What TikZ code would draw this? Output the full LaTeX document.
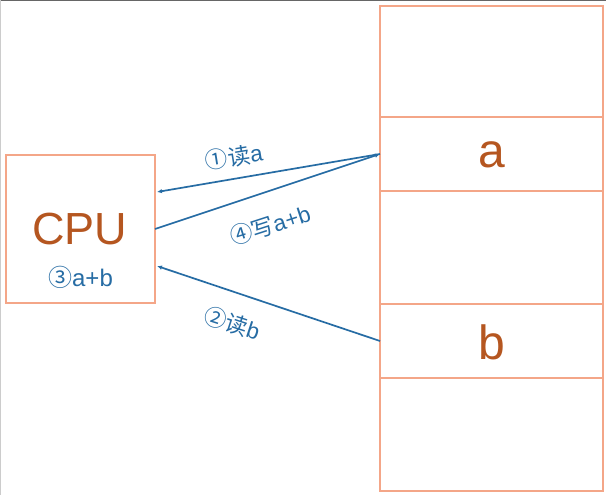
\documentclass[tikz,border=0pt]{standalone}
\usepackage{fontspec}
\setmainfont{Liberation Sans}
\newfontfamily\cjk{Noto Sans CJK SC}
\usetikzlibrary{arrows.meta,calc}
\definecolor{boxline}{RGB}{244,166,136}
\definecolor{brownt}{RGB}{181,86,32}
\definecolor{bluel}{RGB}{38,108,164}
\begin{document}
\begin{tikzpicture}[x=1pt,y=-1pt,
  cell/.style={draw=boxline,line width=1.8pt,minimum width=223pt,inner sep=0pt,outer sep=0pt},
  bigtext/.style={text=brownt,font=\fontsize{48}{50}\selectfont},
  lbl/.style={text=bluel,font=\fontsize{22.5}{24}\selectfont,inner sep=0pt},
  arr/.style={draw=bluel,line width=1.7pt,-{Latex[length=5pt,width=4.5pt]}}]
\useasboundingbox (0,0) rectangle (606,495);
\fill[white] (0,0) rectangle (606,495);
\draw[gray!80!black,line width=2pt] (0,0.5) -- (606,0.5);
\draw[gray!40,line width=1.5pt] (0.5,0) -- (0.5,495);
% CPU
\node[draw=boxline,line width=1.8pt,minimum width=149pt,minimum height=148pt,inner sep=0pt,outer sep=0pt] (cpu) at (80.5,229) {};
\node[text=brownt,font=\fontsize{45}{47}\selectfont] (cputxt) at (80,229) {CPU};
\node[lbl,font=\fontsize{24}{26}\selectfont] (op3) at (80.5,277) {{\cjk ③}a+b};
% memory
\node[cell,minimum height=111pt] (m1) at (491.5,61.5) {};
\node[cell,minimum height=74pt] (m2) at (491.5,154) {};
\node[cell,minimum height=113pt] (m3) at (491.5,247.5) {};
\node[cell,minimum height=74pt] (m4) at (491.5,341) {};
\node[cell,minimum height=113pt] (m5) at (491.5,434.5) {};
\node[bigtext] (ta) at (491.5,155) {a};
\node[bigtext] (tb) at (491.5,342) {b};
% arrows
\coordinate (cin1) at ($(cpu.north east)!0.25!(cpu.south east)+(2,0)$);
\coordinate (cin2) at ($(cpu.north east)!0.75!(cpu.south east)+(2,0)$);
\draw[arr] (m2.west) -- (cin1);
\draw[arr] (cpu.east) -- (m2.west);
\draw[arr] (m4.west) -- (cin2);
% labels
\node[lbl,rotate=9] (l1) at (234,157) {{\cjk ①读}a};
\node[lbl,rotate=18] (l4) at (270,225) {{\cjk ④写}a+b};
\node[lbl,rotate=-18] (l2) at (232,323) {{\cjk ②读}b};
\end{tikzpicture}
\end{document}
